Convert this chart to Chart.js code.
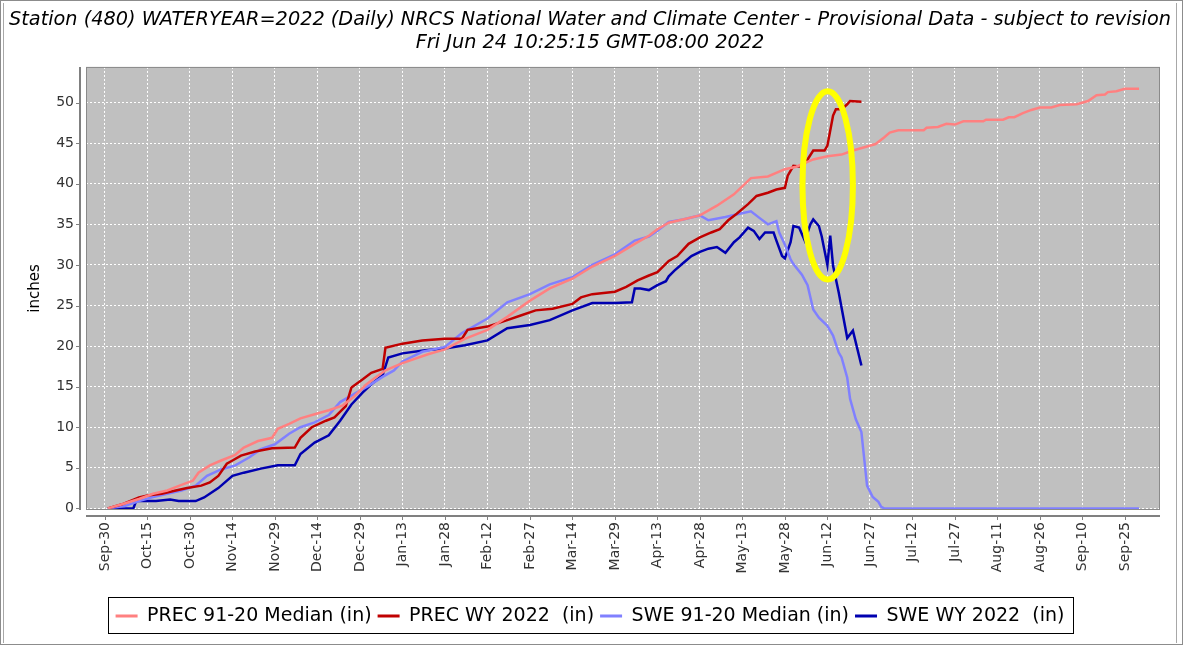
<!DOCTYPE html>
<html>
<head>
<meta charset="utf-8">
<title>Station 480 WY2022</title>
<script src="https://cdn.jsdelivr.net/npm/chart.js@4.4.0/dist/chart.umd.min.js"></script>
<style>
  html, body { margin: 0; padding: 0; background: #fff; }
  #wrap { position: absolute; left: 0; top: 0; width: 1200px; height: 645px; overflow: hidden; }
  #chart { position: absolute; left: 0; top: 0; }
  .frame { position: absolute; box-sizing: border-box; pointer-events: none; }
  #outer { left: 0; top: 0; width: 1183px; height: 645px; border: 1px solid #8c8c8c; }
  #inner { left: 3px; top: 3px; width: 1174px; height: 640px; border-left: 1px solid #a8a8a8; border-right: 1px solid #a8a8a8; }
</style>
</head>
<body>
<div id="wrap">
  <canvas id="chart" width="1180" height="645"></canvas>
  <div class="frame" id="outer"></div>
  <div class="frame" id="inner"></div>
</div>
<script>
// --- DATA (x = days since Oct 1 2021, y = inches) ---
const titleLines = [
    'Station (480) WATERYEAR=2022 (Daily) NRCS National Water and Climate Center - Provisional Data - subject to revision',
    'Fri Jun 24 10:25:15 GMT-08:00 2022'
];

const tickDays = [-1, 14, 29, 44, 59, 74, 89, 104, 119, 134, 149, 164, 179, 194, 209, 224, 239, 254, 269, 284, 299, 314, 329, 344, 359];
const tickLabels = ['Sep-30', 'Oct-15', 'Oct-30', 'Nov-14', 'Nov-29', 'Dec-14', 'Dec-29', 'Jan-13', 'Jan-28', 'Feb-12',
    'Feb-27', 'Mar-14', 'Mar-29', 'Apr-13', 'Apr-28', 'May-13', 'May-28', 'Jun-12', 'Jun-27', 'Jul-12', 'Jul-27',
    'Aug-11', 'Aug-26', 'Sep-10', 'Sep-25'];
const yTicks = [0, 5, 10, 15, 20, 25, 30, 35, 40, 45, 50];

const seriesNames = ['PREC 91-20 Median (in)', 'PREC WY 2022  (in)', 'SWE 91-20 Median (in)', 'SWE WY 2022  (in)'];

const precMedDays = [0, 5, 11, 16, 21, 26, 30, 32, 36, 40, 45, 48, 53, 58, 60, 64, 68, 73, 78, 83, 87, 91, 94, 98, 104,
    113, 119, 126, 134, 141, 149, 156, 164, 171, 179, 186, 191, 194, 198, 203, 209, 215, 221, 227, 233, 239, 243, 249,
    254, 259, 263, 268, 271, 274, 276, 279, 288, 289, 293, 296, 299, 302, 309, 310, 316, 318, 320, 323, 326, 329, 333,
    336, 342, 346, 349, 352, 353, 356, 359, 364];
const precMedVals = [0, 0.5, 1.15, 1.8, 2.2, 2.9, 3.4, 4.4, 5.3, 5.9, 6.6, 7.5, 8.3, 8.7, 9.8, 10.4, 11.1, 11.6, 12.1, 12.7,
    13.8, 15.2, 16.0, 17.0, 17.9, 19.0, 19.6, 20.9, 22.0, 23.6, 25.6, 27.1, 28.3, 29.8, 31.1, 32.6, 33.6, 34.4, 35.2,
    35.6, 36.1, 37.3, 38.7, 40.7, 40.9, 41.8, 42.1, 43.0, 43.4, 43.6, 44.1, 44.6, 44.9, 45.7, 46.3, 46.6, 46.6, 46.9,
    47.0, 47.4, 47.3, 47.7, 47.7, 47.9, 47.9, 48.2, 48.2, 48.7, 49.1, 49.4, 49.4, 49.7, 49.8, 50.2, 50.9, 51.0, 51.3,
    51.4, 51.7, 51.7];

const precWyDays = [0, 5, 11, 14, 19, 24, 28, 33, 36, 39, 42, 44, 47, 52, 58, 66, 68, 72, 77, 80, 84, 86, 90, 93, 97, 98,
    104, 111, 119, 125, 127, 134, 141, 146, 151, 157, 164, 167, 171, 179, 183, 187, 191, 194, 198, 201, 205, 209, 213,
    216, 219, 222, 226, 229, 233, 236, 239, 240, 242, 245, 247, 249, 253, 254, 256, 257, 259, 261, 262, 266];
const precWyVals = [0, 0.5, 1.35, 1.6, 1.8, 2.2, 2.5, 2.8, 3.2, 4.0, 5.5, 5.9, 6.5, 7.0, 7.4, 7.5, 8.7, 10.0, 10.8, 11.2,
    12.6, 14.9, 15.9, 16.7, 17.2, 19.8, 20.3, 20.7, 20.9, 20.9, 22.0, 22.4, 23.2, 23.8, 24.4, 24.6, 25.2, 26.0, 26.4,
    26.7, 27.3, 28.1, 28.7, 29.1, 30.5, 31.1, 32.6, 33.4, 34.0, 34.4, 35.5, 36.3, 37.5, 38.5, 38.9, 39.3, 39.5, 41.0,
    42.2, 42.1, 43.0, 44.1, 44.1, 44.7, 48.4, 49.2, 49.2, 49.8, 50.2, 50.1];

const sweMedDays = [0, 6, 11, 16, 21, 26, 31, 35, 40, 45, 50, 54, 59, 64, 68, 73, 78, 82, 87, 92, 97, 101, 104, 111, 119,
    125, 134, 141, 149, 156, 164, 171, 179, 186, 191, 194, 198, 203, 209, 212, 218, 223, 227, 230, 233, 236, 237, 239,
    241, 242, 245, 247, 249, 251, 254, 256, 258, 259, 261, 262, 264, 266, 267, 268, 270, 272, 273, 274, 364];
const sweMedVals = [0, 0.3, 0.9, 1.4, 1.8, 2.2, 2.8, 4.0, 4.8, 5.3, 6.3, 7.3, 7.9, 9.2, 10.0, 10.6, 11.5, 13.1, 14.1, 15.1,
    16.2, 17.0, 18.1, 19.3, 19.9, 21.6, 23.4, 25.4, 26.4, 27.6, 28.5, 30.0, 31.3, 33.0, 33.5, 34.2, 35.3, 35.6, 36.1,
    35.5, 35.9, 36.3, 36.6, 35.8, 35.0, 35.4, 34.0, 32.5, 30.7, 30.1, 28.8, 27.5, 24.5, 23.5, 22.5, 21.3, 19.2, 18.6,
    16.1, 13.5, 11.0, 9.4, 6.1, 2.8, 1.4, 0.8, 0.2, 0, 0];

const sweWyDays = [0, 9, 10, 17, 22, 25, 31, 34, 39, 44, 48, 54, 60, 66, 68, 73, 78, 82, 86, 90, 93, 97, 99, 104, 112, 119,
    126, 134, 141, 149, 156, 164, 171, 179, 185, 186, 188, 191, 194, 197, 198, 200, 203, 206, 209, 212, 215, 218, 221,
    223, 226, 228, 230, 232, 235, 236, 238, 239, 241, 242, 244, 246, 248, 249, 251, 252, 254, 255, 256, 258, 261, 263, 266];
const sweWyVals = [0, 0, 0.9, 0.9, 1.1, 0.9, 0.9, 1.35, 2.5, 4.0, 4.4, 4.9, 5.3, 5.3, 6.7, 8.1, 9.0, 10.8, 12.8, 14.3, 15.3,
    16.4, 18.6, 19.1, 19.5, 19.7, 20.1, 20.7, 22.2, 22.6, 23.2, 24.4, 25.3, 25.3, 25.4, 27.1, 27.1, 26.9, 27.5, 28.0,
    28.6, 29.3, 30.2, 31.1, 31.6, 32.0, 32.2, 31.5, 32.8, 33.4, 34.6, 34.2, 33.2, 34.0, 34.0, 33.0, 31.1, 30.8, 32.8,
    34.8, 34.6, 33.0, 35.0, 35.6, 34.8, 33.5, 30.0, 33.6, 29.9, 26.6, 21.0, 21.9, 17.6];

// yellow ring drawn on the screenshot (data units)
const noteDay = 254.1, noteValue = 39.8, noteHalfDays = 8.9, noteHalfValue = 11.6;

const seriesColors = ['#ff8080', '#c00000', '#8080ff', '#0000b0'];

// --- helpers ---
const toPoints = (days, vals) => days.map((d, i) => ({ x: d, y: vals[i] }));

const FONT = "'DejaVu Sans', 'Liberation Sans', sans-serif";
const BOTTOM_PAD = 9.5;
const PLOT_BOTTOM = 510;

// Plot background, JFreeChart-like offset axes, annotation ring, legend frame
const plotDecor = {
    id: 'plotDecor',
    beforeDraw(chart) {
        const { ctx, chartArea: a } = chart;
        ctx.save();
        ctx.fillStyle = '#c0c0c0';
        ctx.fillRect(a.left, a.top, a.right - a.left, a.bottom - a.top);
        ctx.restore();
    },
    afterDatasetsDraw(chart) {
        const { ctx } = chart;
        const xs = chart.scales.x, ys = chart.scales.y;
        const cx = xs.getPixelForValue(noteDay);
        const cy = ys.getPixelForValue(noteValue);
        const rx = xs.getPixelForValue(noteDay + noteHalfDays) - cx;
        const ry = cy - ys.getPixelForValue(noteValue + noteHalfValue);
        ctx.save();
        ctx.strokeStyle = '#ffff00';
        ctx.lineWidth = 6;
        ctx.beginPath();
        ctx.ellipse(cx, cy, rx, ry, 0, 0, Math.PI * 2);
        ctx.stroke();
        ctx.restore();
    },
    afterDraw(chart) {
        const { ctx, chartArea: a } = chart;
        const xs = chart.scales.x, ys = chart.scales.y;
        ctx.save();
        // plot outline
        ctx.strokeStyle = '#8a8a8a';
        ctx.lineWidth = 1;
        ctx.strokeRect(a.left + 0.5, a.top + 0.5, a.right - a.left - 1, a.bottom - a.top - 1);
        // axis lines, offset from the plot
        ctx.strokeStyle = '#808080';
        ctx.lineWidth = 2;
        ctx.beginPath();
        ctx.moveTo(a.left, a.bottom + 6);
        ctx.lineTo(a.right, a.bottom + 6);
        ctx.moveTo(a.left - 6, a.top);
        ctx.lineTo(a.left - 6, a.bottom);
        ctx.stroke();
        // tick marks
        ctx.lineWidth = 1;
        ctx.beginPath();
        xs.ticks.forEach(t => {
            const px = Math.round(xs.getPixelForValue(t.value)) + 0.5;
            ctx.moveTo(px, a.bottom + 6);
            ctx.lineTo(px, a.bottom + 10);
        });
        ys.ticks.forEach(t => {
            const py = Math.round(ys.getPixelForValue(t.value)) + 0.5;
            ctx.moveTo(a.left - 6, py);
            ctx.lineTo(a.left - 10, py);
        });
        ctx.stroke();
        // legend frame
        const boxes = chart.legend.legendHitBoxes;
        if (boxes && boxes.length) {
            const l = Math.min(...boxes.map(b => b.left)) - 8;
            const r = Math.max(...boxes.map(b => b.left + b.width)) + 8;
            const t = boxes[0].top - 9.5;
            const b = boxes[0].top + boxes[0].height + 7;
            ctx.strokeStyle = '#000';
            ctx.lineWidth = 1;
            ctx.strokeRect(Math.round(l) + 0.5, Math.round(t) + 0.5, Math.round(r - l), Math.round(b - t));
        }
        ctx.restore();
    }
};

const ctx = document.getElementById('chart').getContext('2d');

const chart = new Chart(ctx, {
    type: 'line',
    data: {
        datasets: [
            { label: seriesNames[0], data: toPoints(precMedDays, precMedVals), borderColor: seriesColors[0], backgroundColor: seriesColors[0], borderWidth: 2.5 },
            { label: seriesNames[1], data: toPoints(precWyDays, precWyVals), borderColor: seriesColors[1], backgroundColor: seriesColors[1], borderWidth: 2.5 },
            { label: seriesNames[2], data: toPoints(sweMedDays, sweMedVals), borderColor: seriesColors[2], backgroundColor: seriesColors[2], borderWidth: 2.5 },
            { label: seriesNames[3], data: toPoints(sweWyDays, sweWyVals), borderColor: seriesColors[3], backgroundColor: seriesColors[3], borderWidth: 2.5 }
        ]
    },
    options: {
        responsive: false,
        animation: false,
        devicePixelRatio: 1,
        parsing: false,
        elements: {
            line: { tension: 0 },
            point: { radius: 0, hitRadius: 0 }
        },
        layout: { padding: { left: 0, right: 0, top: 0, bottom: BOTTOM_PAD } },
        plugins: {
            tooltip: { enabled: false },
            title: {
                display: true,
                text: titleLines,
                color: '#000',
                font: { family: FONT, size: 19.3, style: 'italic', weight: 'normal', lineHeight: 1.19 },
                padding: { top: 9, bottom: 12 }
            },
            legend: {
                position: 'bottom',
                labels: {
                    usePointStyle: true,
                    pointStyle: 'line',
                    pointStyleWidth: 22,
                    color: '#000',
                    padding: 6,
                    font: { family: FONT, size: 19 },
                    // thicker swatches, as in the reference legend
                    generateLabels: c => Chart.defaults.plugins.legend.labels.generateLabels(c)
                        .map(item => Object.assign(item, { lineWidth: 3 }))
                }
            }
        },
        scales: {
            x: {
                type: 'linear',
                min: -7.7,
                max: 371.4,
                afterBuildTicks: s => { s.ticks = tickDays.map(v => ({ value: v })); },
                afterFit: s => {
                    const lh = s.chart.legend ? s.chart.legend.height : 35;
                    s.height = s.chart.height - BOTTOM_PAD - lh - PLOT_BOTTOM;
                },
                grid: { color: '#ffffff', lineWidth: 1, drawTicks: false, borderDash: [2, 2] },
                border: { display: false, dash: [2, 2] },
                ticks: {
                    autoSkip: false,
                    maxRotation: 90,
                    minRotation: 90,
                    padding: 12,
                    color: '#333',
                    font: { family: FONT, size: 14 },
                    callback: (v, i) => tickLabels[i]
                }
            },
            y: {
                type: 'linear',
                min: -0.2,
                max: 54.4,
                afterBuildTicks: s => { s.ticks = yTicks.map(v => ({ value: v })); },
                afterFit: s => { s.width = 86; },
                grid: { color: '#ffffff', lineWidth: 1, drawTicks: false, borderDash: [2, 2] },
                border: { display: false, dash: [2, 2] },
                ticks: {
                    padding: 12,
                    color: '#333',
                    font: { family: FONT, size: 14 }
                },
                title: {
                    display: true,
                    text: 'inches',
                    color: '#000',
                    font: { family: FONT, size: 15 },
                    padding: { top: 26, bottom: 0 }
                }
            },
            // empty right-hand margin so the plot ends where the reference does
            yRight: {
                type: 'linear',
                position: 'right',
                afterFit: s => { s.width = 20; },
                grid: { display: false },
                border: { display: false },
                ticks: { display: false }
            }
        }
    },
    plugins: [plotDecor]
});
</script>
</body>
</html>
